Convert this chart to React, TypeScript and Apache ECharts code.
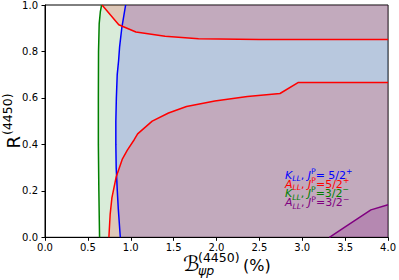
import React, { useEffect, useRef } from "react";
import * as echarts from "echarts";

// ---- data ----
const xTickValues = [0, 0.5, 1.0, 1.5, 2.0, 2.5, 3.0, 3.5, 4.0];
const yTickValues = [0, 0.2, 0.4, 0.6, 0.8, 1.0];

// K_LL, J^P = 3/2- boundary (green)
const greenBoundary: number[][] = [
  [0.636, 0], [0.628, 0.2], [0.622, 0.4], [0.622, 0.6], [0.624, 0.8],
  [0.632, 0.92], [0.645, 0.97], [0.66, 1.0],
];
// K_LL, J^P = 5/2+ boundary (blue)
const blueBoundary: number[][] = [
  [0.878, 0], [0.855, 0.12], [0.843, 0.2], [0.83, 0.3], [0.826, 0.4],
  [0.826, 0.5], [0.832, 0.6], [0.842, 0.7], [0.858, 0.76], [0.87, 0.82],
  [0.895, 0.9], [0.94, 1.0],
];
// A_LL, J^P = 5/2+ upper boundary (red)
const redUpper: number[][] = [
  [0.665, 1.0], [0.86, 0.915], [1.06, 0.884], [1.4, 0.865], [1.79, 0.855],
  [2.5, 0.852], [3.0, 0.852], [4.0, 0.852],
];
// A_LL, J^P = 5/2+ lower boundary (red)
const redLower: number[][] = [
  [0.745, 0], [0.76, 0.1], [0.78, 0.17], [0.83, 0.26], [0.9, 0.335],
  [0.96, 0.375], [1.04, 0.42], [1.08, 0.445], [1.25, 0.5], [1.44, 0.535],
  [1.65, 0.563], [1.98, 0.587], [2.36, 0.606], [2.74, 0.619], [2.95, 0.666],
  [4.0, 0.666],
];
// A_LL, J^P = 3/2- boundary (purple)
const purpleBoundary: number[][] = [
  [3.316, 0], [3.5, 0.045], [3.8, 0.118], [4.0, 0.14],
];

const FONT = "DejaVu Sans";

function polySeries(points: number[][], fill: string, z: number) {
  return {
    type: "custom",
    coordinateSystem: "cartesian2d",
    data: points,
    z,
    silent: true,
    clip: true,
    renderItem: (params: any, api: any) => {
      if (params.dataIndex !== 0) return null;
      const pts = points.map((p) => api.coord(p));
      return {
        type: "polygon",
        shape: { points: pts },
        style: { fill, stroke: "none" },
      };
    },
  };
}

function lineSeries(points: number[][], color: string) {
  return {
    type: "line",
    data: points,
    showSymbol: false,
    symbol: "none",
    z: 5,
    silent: true,
    lineStyle: { color, width: 1.5 },
  };
}

const LH = 9.3;
function legendText(top: number, color: string, sym: string, val: string, sign: string) {
  return {
    type: "text",
    left: 285,
    top,
    z: 10,
    style: {
      text: `{m|${sym}}{s|LL}{n|, }{m|J}{p|P}{n|${val}}{p|${sign}}`,
      fill: color,
      rich: {
        m: { fontFamily: FONT, fontStyle: "italic", fontSize: 11, color, lineHeight: LH, verticalAlign: "middle" },
        n: { fontFamily: FONT, fontSize: 11, color, lineHeight: LH, verticalAlign: "middle" },
        s: { fontFamily: FONT, fontStyle: "italic", fontSize: 7.7, color, height: 2, lineHeight: 2, verticalAlign: "bottom" },
        p: { fontFamily: FONT, fontSize: 7.7, color, height: 2, lineHeight: 2, verticalAlign: "top" },
      },
    },
  };
}

export default function App() {
  const ref = useRef<HTMLDivElement>(null);
  useEffect(() => {
    if (!ref.current) return;
    const chart = echarts.init(ref.current, undefined, { renderer: "svg" });
    const greenPoly = [...greenBoundary, [4, 1], [4, 0]];
    const bluePoly = [...blueBoundary, [4, 1], [4, 0]];
    const redTopPoly = [...redUpper, [4, 1]];
    const redBottomPoly = [...redLower, [4, 0]];
    const purplePoly = [...purpleBoundary, [4, 0]];
    chart.setOption({
      animation: false,
      grid: {
        left: 45, right: 7, top: 3.5, bottom: 42.7,
        show: true, borderColor: "#000", borderWidth: 1, backgroundColor: "transparent",
      },
      xAxis: {
        type: "value", min: 0, max: 4, interval: 0.5,
        axisLine: { show: true, lineStyle: { color: "#000", width: 1 } },
        axisTick: { show: true, length: 3.5, lineStyle: { color: "#000" } },
        splitLine: { show: false },
        axisLabel: {
          color: "#000", fontSize: 10, fontFamily: FONT, margin: 5,
          formatter: (v: number) => (xTickValues.includes(v) ? v.toFixed(1) : ""),
        },
      },
      yAxis: {
        type: "value", min: 0, max: 1, interval: 0.2,
        axisLine: { show: true, lineStyle: { color: "#000", width: 1 } },
        axisTick: { show: true, length: 3.5, lineStyle: { color: "#000" } },
        splitLine: { show: false },
        axisLabel: {
          color: "#000", fontSize: 10, fontFamily: FONT, margin: 7,
          formatter: (v: number) => (yTickValues.some((t) => Math.abs(t - v) < 1e-9) ? v.toFixed(1) : ""),
        },
      },
      series: [
        polySeries(greenPoly, "rgba(0,128,0,0.15)", 1),
        polySeries(bluePoly, "rgba(0,0,255,0.15)", 2),
        polySeries(redTopPoly, "rgba(255,0,0,0.15)", 3),
        polySeries(redBottomPoly, "rgba(255,0,0,0.15)", 3),
        polySeries(purplePoly, "rgba(128,0,128,0.2)", 4),
        lineSeries(greenBoundary, "#008000"),
        lineSeries(blueBoundary, "#0000ff"),
        lineSeries(redUpper, "#ff0000"),
        lineSeries(redLower, "#ff0000"),
        lineSeries(purpleBoundary, "#800080"),
      ],
      graphic: [
        legendText(172 - LH / 2, "#0000ff", "K", "= 5/2", "+"),
        legendText(181.3 - LH / 2, "#ff0000", "A", "=5/2", "+"),
        legendText(190.6 - LH / 2, "#008000", "K", "=3/2", "−"),
        legendText(199.9 - LH / 2, "#800080", "A", "=3/2", "−"),
        // x-axis label
        { type: "text", x: 183, y: 264, style: { text: "ℬ", fontFamily: FONT, fontStyle: "italic", fontSize: 21, fill: "#000", textVerticalAlign: "middle" } },
        { type: "text", x: 198, y: 257, style: { text: "(4450)", fontFamily: FONT, fontSize: 12.5, fill: "#000", textVerticalAlign: "middle" } },
        { type: "text", x: 198, y: 270, style: { text: "ψp", fontFamily: FONT, fontStyle: "italic", fontSize: 12.5, fill: "#000", textVerticalAlign: "middle" } },
        { type: "text", x: 243, y: 265, style: { text: "(%)", fontFamily: FONT, fontSize: 16, fill: "#000", textVerticalAlign: "middle" } },
        // y-axis label
        {
          type: "group", x: 13, y: 148.5, rotation: Math.PI / 2,
          children: [
            { type: "text", x: 0, y: 0, style: { text: "R", fontFamily: FONT, fontSize: 18, fill: "#000", textVerticalAlign: "middle" } },
            { type: "text", x: 13.5, y: -5.5, style: { text: "(4450)", fontFamily: FONT, fontSize: 12.5, fill: "#000", textVerticalAlign: "middle" } },
          ],
        },
      ],
    });
    return () => chart.dispose();
  }, []);
  return (
    <div
      ref={ref}
      style={{ position: "fixed", left: 0, top: 0, width: 399, height: 280, background: "#fff" }}
    />
  );
}
